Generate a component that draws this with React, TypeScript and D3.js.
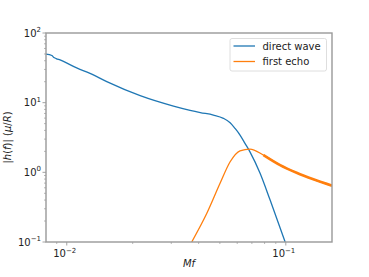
import React from "react";
import * as d3 from "d3";

// direct wave |h(f)|
const directMf = [0.00804, 0.00855, 0.0087, 0.00895, 0.00932, 0.0111, 0.01277, 0.01523, 0.02163, 0.0307, 0.03656, 0.0407, 0.0467, 0.0519, 0.0557, 0.0586, 0.0618, 0.0651, 0.0686, 0.0763, 0.0848, 0.0993];
const directAmp = [49.8, 47.5, 45, 43, 41, 31.5, 26.3, 20, 12.6, 8.93, 7.76, 7.21, 6.64, 5.96, 5.15, 4.28, 3.43, 2.61, 1.97, 0.97, 0.4, 0.1];

// first echo
const echoMf = [0.0372, 0.0436, 0.0501, 0.0557, 0.0618, 0.0686, 0.0791, 0.0942, 0.112, 0.1336, 0.1625];
const echoAmp = [0.1, 0.258, 0.695, 1.42, 2.04, 2.16, 1.77, 1.27, 0.986, 0.794, 0.643];

const yTicks = [0.1, 1, 10, 100];
const yExp = ["\u22121", "0", "1", "2"];
const xTicks = [0.01, 0.1];
const xExp = ["\u22122", "\u22121"];

const W = 369;
const H = 277;
const m = { left: 46, right: 332, top: 33, bottom: 242 };
const blue = "#1f77b4";
const orange = "#ff7f0e";
const spine = "#999999";

export default function App() {
  const x = d3.scaleLog().domain([0.00804, 0.1625]).range([m.left, m.right]);
  const y = d3.scaleLog().domain([0.1, 100]).range([m.bottom, m.top]);

  const line = d3
    .line<[number, number]>()
    .x((d) => x(d[0]))
    .y((d) => y(d[1]))
    .curve(d3.curveMonotoneX);

  const direct = directMf.map((v, i) => [v, directAmp[i]] as [number, number]);
  const echo = echoMf.map((v, i) => [v, echoAmp[i]] as [number, number]);
  const echoTail = echo.filter((d) => d[0] >= 0.0791);

  // minor ticks
  const xMinor: number[] = [];
  for (const dec of [0.001, 0.01, 0.1]) {
    for (let k = 2; k <= 9; k++) {
      const v = dec * k;
      if (v >= 0.00804 && v <= 0.1625) xMinor.push(v);
    }
  }
  const yMinor: number[] = [];
  for (const dec of [0.1, 1, 10]) {
    for (let k = 2; k <= 9; k++) yMinor.push(dec * k);
  }

  const font = "DejaVu Sans, sans-serif";

  return (
    <svg width={W} height={H} style={{ position: "absolute", left: 0, top: 0 }} fontFamily={font}>
      <rect width={W} height={H} fill="#fff" />
      <defs>
        <clipPath id="plot">
          <rect x={m.left} y={m.top} width={m.right - m.left} height={m.bottom - m.top} />
        </clipPath>
      </defs>

      <g clipPath="url(#plot)" fill="none">
        <path d={line(direct) || ""} stroke={blue} strokeWidth={1.3} />
        <path d={line(echo) || ""} stroke={orange} strokeWidth={1.3} />
        <path d={line(echoTail) || ""} stroke={orange} strokeWidth={2.6} />
      </g>

      {/* ticks */}
      {xMinor.map((v) => (
        <line key={"xm" + v} x1={x(v)} x2={x(v)} y1={m.bottom} y2={m.bottom + 2} stroke={spine} strokeWidth={0.7} />
      ))}
      {xTicks.map((v, i) => (
        <g key={"x" + v}>
          <line x1={x(v)} x2={x(v)} y1={m.bottom} y2={m.bottom + 3.5} stroke={spine} strokeWidth={0.9} />
          <text x={x(v) - 2} y={m.bottom + 15} fontSize={10} textAnchor="middle" fill="#222">
            10
            <tspan fontSize={7} dy={-4.5}>{xExp[i]}</tspan>
          </text>
        </g>
      ))}
      {yMinor.map((v) => (
        <line key={"ym" + v} x1={m.left - 2} x2={m.left} y1={y(v)} y2={y(v)} stroke={spine} strokeWidth={0.7} />
      ))}
      {yTicks.map((v, i) => (
        <g key={"y" + v}>
          <line x1={m.left - 3.5} x2={m.left} y1={y(v)} y2={y(v)} stroke={spine} strokeWidth={0.9} />
          <text x={m.left - 5} y={y(v) + 3.5} fontSize={10} textAnchor="end" fill="#222">
            10
            <tspan fontSize={7} dy={-4.5}>{yExp[i]}</tspan>
          </text>
        </g>
      ))}

      {/* spines */}
      <rect x={m.left} y={m.top} width={m.right - m.left} height={m.bottom - m.top} fill="none" stroke={spine} strokeWidth={1.4} />

      {/* axis labels */}
      <text x={(m.left + m.right) / 2} y={267} fontSize={10} textAnchor="middle" fontStyle="italic" fill="#222">
        Mf
      </text>
      <text
        transform={`translate(11,${(m.top + m.bottom) / 2}) rotate(-90)`}
        fontSize={10}
        textAnchor="middle"
        fill="#222"
      >
        |<tspan fontStyle="italic">h</tspan>(<tspan fontStyle="italic">f</tspan>)| (
        <tspan fontStyle="italic">μ</tspan>/<tspan fontStyle="italic">R</tspan>)
      </text>

      {/* legend */}
      <g>
        <rect x={230} y={38.5} width={96.5} height={32.5} rx={2} fill="#fff" stroke="#d6d6d6" strokeWidth={0.8} />
        <line x1={233.5} x2={255} y1={46} y2={46} stroke={blue} strokeWidth={1.3} />
        <text x={262.5} y={49.5} fontSize={10} fill="#222">direct wave</text>
        <line x1={233.5} x2={255} y1={61.5} y2={61.5} stroke={orange} strokeWidth={1.3} />
        <text x={262.5} y={65} fontSize={10} fill="#222">first echo</text>
      </g>
    </svg>
  );
}
